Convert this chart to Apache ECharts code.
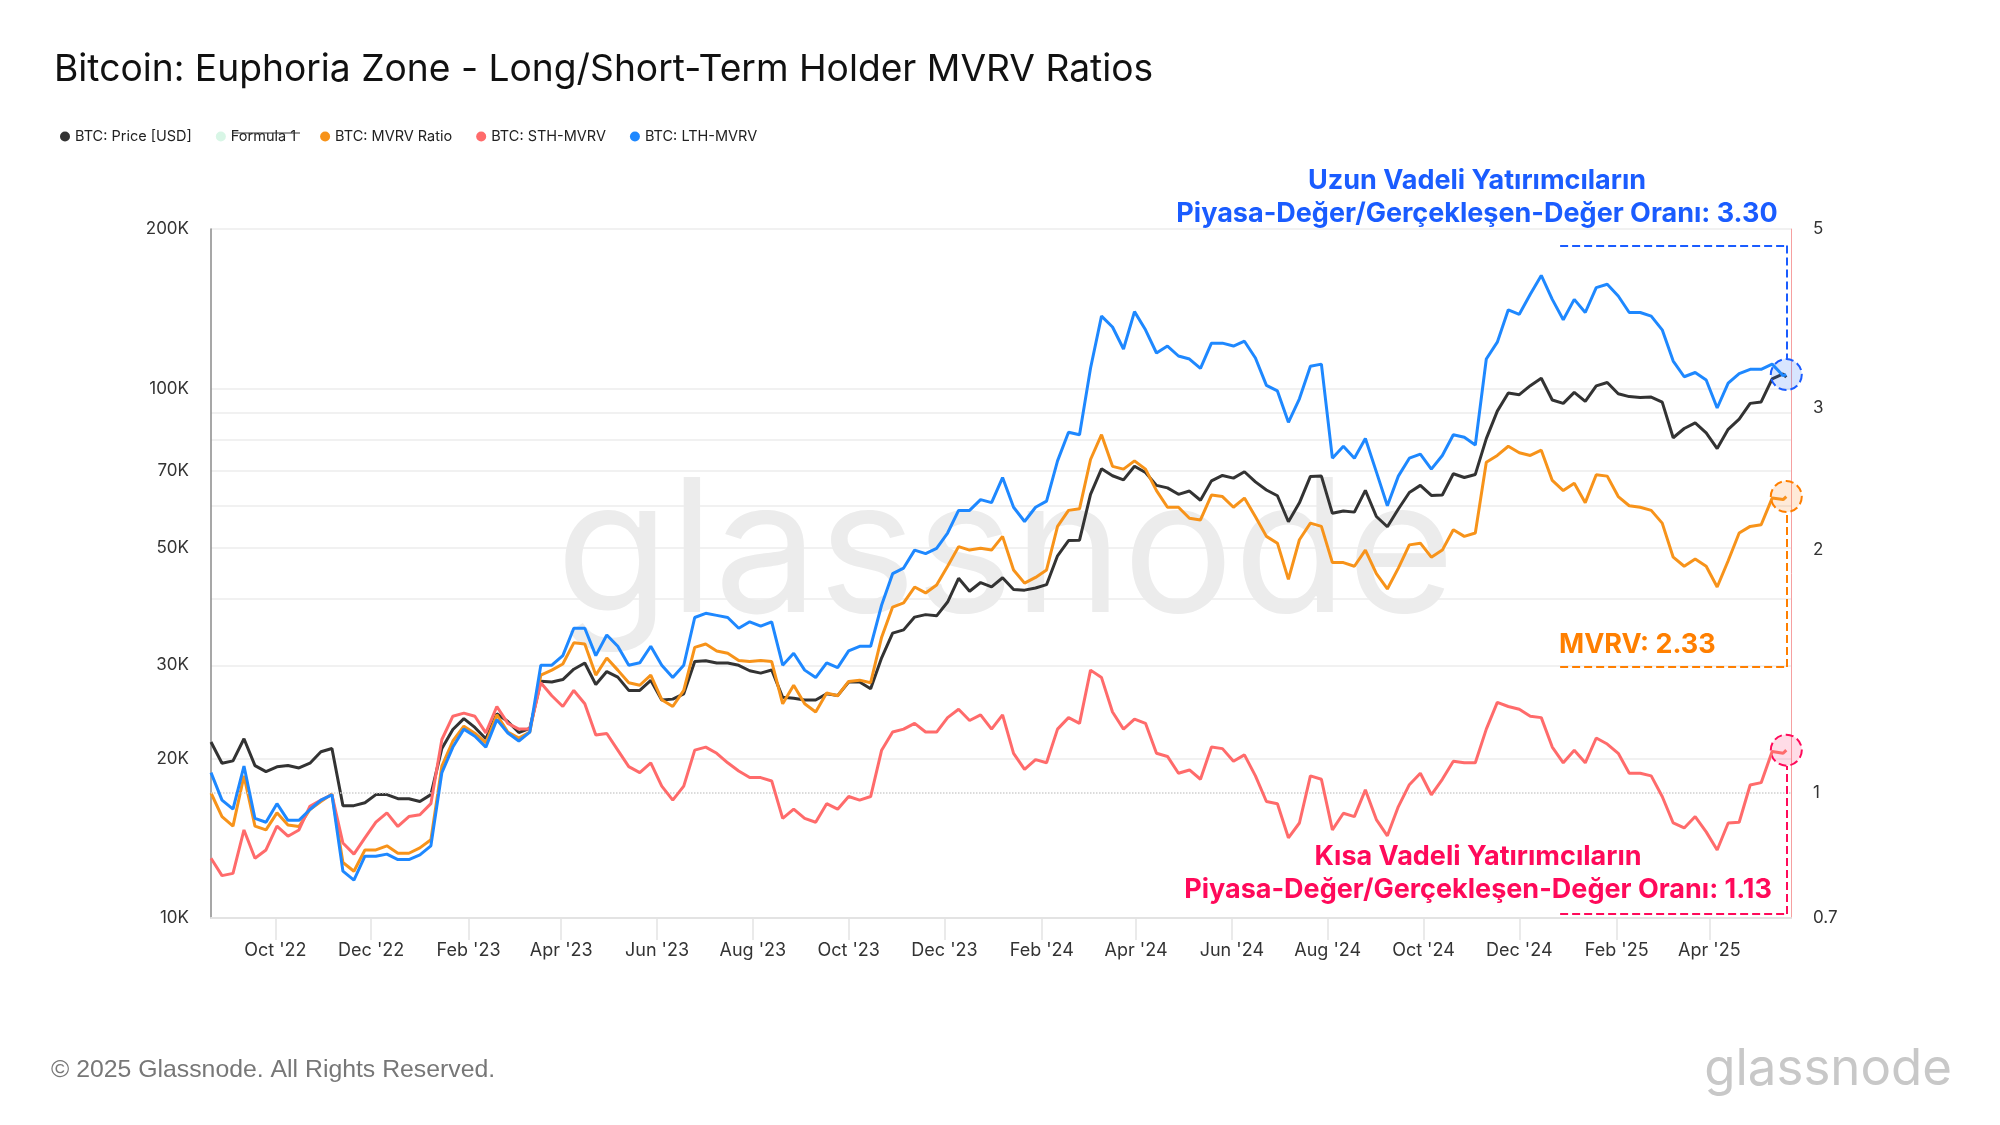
<!DOCTYPE html>
<html>
<head>
<meta charset="utf-8">
<title>Bitcoin: Euphoria Zone</title>
<script src="https://cdn.jsdelivr.net/npm/echarts@6/dist/echarts.min.js"></script>
<style>
  html, body { margin: 0; padding: 0; background: #fff; }
  #chart { width: 2000px; height: 1125px; }
</style>
</head>
<body>
<div id="chart"></div>
<script>
// weekly samples from 2022-08-21, plus the last day shown
const firstWeek = [2022, 7, 21];
const lastDay = [2025, 4, 20];

// BTC: Price [USD]
const priceUsd = [
    21500, 19600, 19800, 21800, 19400, 18900, 19300, 19400, 19200, 19600, 20600, 20900,
    16300, 16300, 16500, 17100, 17100, 16800, 16800, 16600, 17100, 20900, 22700, 23800,
    22900, 21800, 24300, 23500, 22400, 22800, 28000, 27900, 28200, 29500, 30300, 27600,
    29200, 28500, 26900, 26900, 28100, 25800, 25900, 26500, 30500, 30600, 30300, 30300,
    30000, 29300, 29000, 29400, 26100, 26000, 25800, 25800, 26500, 26300, 27900, 27900,
    27100, 31000, 34500, 35000, 37000, 37400, 37200, 39500, 43800, 41400, 43000, 42200,
    43900, 41700, 41600, 42000, 42600, 48300, 51600, 51700, 63100, 70500, 68400, 67200,
    71300, 69400, 65600, 64900, 63100, 64000, 61500, 66900, 68500, 67700, 69600, 66600,
    64300, 62700, 56000, 60800, 68200, 68300, 58100, 58700, 58400, 64200, 57300, 54800,
    59200, 63600, 65600, 62800, 62900, 69000, 67900, 68800, 80400, 90600, 98000, 97300,
    101200, 104500, 95100, 93700, 98300, 94500, 101100, 102600, 97700, 96500, 96100, 96300,
    94200, 80700, 84000, 86100, 82400, 77000, 83700, 87500, 93700, 94300, 104200, 106500,
    105000
];

// BTC: MVRV Ratio
const mvrv = [
    1.00, 0.935, 0.91, 1.05, 0.91, 0.90, 0.945, 0.913, 0.909, 0.954, 0.976, 0.997,
    0.82, 0.80, 0.85, 0.85, 0.86, 0.842, 0.842, 0.855, 0.875, 1.08, 1.16, 1.21,
    1.186, 1.154, 1.25, 1.19, 1.17, 1.19, 1.40, 1.42, 1.445, 1.535, 1.53, 1.40,
    1.47, 1.42, 1.37, 1.36, 1.40, 1.305, 1.28, 1.34, 1.515, 1.53, 1.50, 1.49,
    1.46, 1.455, 1.46, 1.455, 1.29, 1.36, 1.29, 1.26, 1.33, 1.32, 1.375, 1.38,
    1.37, 1.56, 1.70, 1.72, 1.80, 1.77, 1.81, 1.91, 2.02, 2.00, 2.01, 2.00,
    2.08, 1.89, 1.82, 1.85, 1.89, 2.14, 2.24, 2.25, 2.59, 2.78, 2.54, 2.52,
    2.58, 2.52, 2.37, 2.26, 2.26, 2.19, 2.18, 2.34, 2.33, 2.26, 2.32, 2.20,
    2.08, 2.04, 1.84, 2.06, 2.16, 2.14, 1.93, 1.93, 1.91, 2.00, 1.87, 1.79,
    1.90, 2.03, 2.04, 1.96, 2.00, 2.12, 2.08, 2.10, 2.57, 2.62, 2.69, 2.64,
    2.62, 2.66, 2.44, 2.37, 2.42, 2.29, 2.48, 2.47, 2.33, 2.27, 2.26, 2.24,
    2.16, 1.96, 1.91, 1.95, 1.91, 1.80, 1.94, 2.10, 2.14, 2.15, 2.32, 2.31,
    2.33
];

// BTC: STH-MVRV
const sthMvrv = [
    0.83, 0.79, 0.795, 0.90, 0.83, 0.85, 0.91, 0.884, 0.90, 0.963, 0.98, 0.995,
    0.867, 0.84, 0.88, 0.92, 0.945, 0.909, 0.935, 0.94, 0.97, 1.165, 1.245, 1.256,
    1.245, 1.187, 1.28, 1.22, 1.20, 1.20, 1.37, 1.32, 1.28, 1.34, 1.29, 1.18,
    1.185, 1.13, 1.078, 1.06, 1.09, 1.02, 0.98, 1.02, 1.13, 1.14, 1.12, 1.09,
    1.065, 1.045, 1.045, 1.035, 0.93, 0.955, 0.93, 0.92, 0.97, 0.955, 0.99, 0.98,
    0.99, 1.13, 1.19, 1.20, 1.22, 1.19, 1.19, 1.24, 1.27, 1.23, 1.25, 1.20,
    1.25, 1.12, 1.07, 1.10, 1.09, 1.20, 1.24, 1.22, 1.42, 1.39, 1.26, 1.20,
    1.235, 1.22, 1.12, 1.11, 1.058, 1.068, 1.04, 1.14, 1.135, 1.095, 1.115, 1.05,
    0.976, 0.97, 0.88, 0.918, 1.05, 1.04, 0.90, 0.944, 0.935, 1.009, 0.927, 0.885,
    0.962, 1.024, 1.058, 0.995, 1.04, 1.095, 1.09, 1.09, 1.20, 1.295, 1.28, 1.27,
    1.245, 1.24, 1.14, 1.09, 1.13, 1.09, 1.17, 1.15, 1.12, 1.058, 1.058, 1.05,
    0.99, 0.918, 0.905, 0.935, 0.895, 0.85, 0.918, 0.92, 1.023, 1.03, 1.126, 1.12,
    1.13
];

// BTC: LTH-MVRV
const lthMvrv = [
    1.06, 0.98, 0.955, 1.08, 0.93, 0.92, 0.97, 0.925, 0.925, 0.954, 0.98, 0.995,
    0.80, 0.78, 0.835, 0.835, 0.84, 0.827, 0.827, 0.838, 0.86, 1.06, 1.14, 1.20,
    1.176, 1.14, 1.233, 1.187, 1.16, 1.19, 1.44, 1.44, 1.48, 1.60, 1.60, 1.48,
    1.57, 1.52, 1.44, 1.45, 1.52, 1.44, 1.39, 1.44, 1.65, 1.67, 1.66, 1.65,
    1.60, 1.63, 1.61, 1.63, 1.44, 1.49, 1.42, 1.39, 1.45, 1.43, 1.50, 1.52,
    1.52, 1.71, 1.87, 1.90, 2.00, 1.98, 2.01, 2.10, 2.24, 2.24, 2.31, 2.29,
    2.46, 2.26, 2.17, 2.26, 2.30, 2.58, 2.80, 2.78, 3.36, 3.90, 3.78, 3.55,
    3.95, 3.75, 3.51, 3.58, 3.48, 3.45, 3.36, 3.61, 3.61, 3.58, 3.63, 3.46,
    3.20, 3.15, 2.88, 3.08, 3.38, 3.40, 2.60, 2.69, 2.60, 2.75, 2.50, 2.27,
    2.47, 2.60, 2.63, 2.52, 2.62, 2.78, 2.76, 2.70, 3.45, 3.62, 3.97, 3.92,
    4.15, 4.38, 4.09, 3.86, 4.09, 3.94, 4.23, 4.27, 4.13, 3.94, 3.94, 3.90,
    3.75, 3.43, 3.28, 3.32, 3.25, 3.00, 3.22, 3.31, 3.35, 3.35, 3.40, 3.29,
    3.30
];

// axis ticks
const monthTicks = ['2022-10-01', '2022-12-01', '2023-02-01', '2023-04-01', '2023-06-01', '2023-08-01',
    '2023-10-01', '2023-12-01', '2024-02-01', '2024-04-01', '2024-06-01', '2024-08-01',
    '2024-10-01', '2024-12-01', '2025-02-01', '2025-04-01'];
const priceLabels = [10000, 20000, 30000, 50000, 70000, 100000, 200000];
const priceGridLines = [10000, 20000, 30000, 40000, 50000, 60000, 70000, 80000, 90000, 100000, 200000];
const ratioLabels = [0.7, 1, 2, 3, 5];

const monthNames = ['Jan', 'Feb', 'Mar', 'Apr', 'May', 'Jun', 'Jul', 'Aug', 'Sep', 'Oct', 'Nov', 'Dec'];

function dayTime(s) {
    const p = s.split('-');
    return new Date(+p[0], +p[1] - 1, +p[2]).getTime();
}

// x values (timestamps on a linear axis)
const dates = [];
for (let i = 0; i < priceUsd.length - 1; i++) {
    dates.push(new Date(firstWeek[0], firstWeek[1], firstWeek[2] + 7 * i).getTime());
}
const endTime = new Date(lastDay[0], lastDay[1], lastDay[2]).getTime();
dates.push(endTime);

function pairs(values) {
    return values.map(function (v, i) { return [dates[i], v]; });
}

const BLUE = '#1a5cff';
const ORANGE = '#ff7f00';
const PINK = '#ff0a5a';
const FONT = 'Inter, "Noto Sans", sans-serif';
const annStart = dayTime('2024-12-27');

document.addEventListener('DOMContentLoaded', function () {
    const chart = echarts.init(document.getElementById('chart'));
    chart.setOption({
        animation: false,
        backgroundColor: '#ffffff',
        textStyle: { fontFamily: FONT },
        title: {
            text: 'Bitcoin: Euphoria Zone - Long/Short-Term Holder MVRV Ratios',
            left: 49,
            top: 46,
            textStyle: { fontSize: 37.2, fontWeight: 'normal', color: '#111111', fontFamily: FONT }
        },
        legend: {
            left: 55,
            top: 124,
            icon: 'circle',
            itemWidth: 10,
            itemHeight: 10,
            itemGap: 24,
            textStyle: { fontSize: 14.5, color: '#222222', fontFamily: FONT },
            data: ['BTC: Price [USD]', 'Formula 1', 'BTC: MVRV Ratio', 'BTC: STH-MVRV', 'BTC: LTH-MVRV']
        },
        grid: { left: 211, right: 209, top: 229, bottom: 207 },
        xAxis: {
            type: 'value',
            min: dayTime('2022-08-21'),
            max: dayTime('2025-05-23'),
            axisLine: { lineStyle: { color: '#e3e3e3', width: 2 } },
            axisTick: {
                show: true,
                customValues: monthTicks.map(dayTime),
                length: 22,
                lineStyle: { color: '#e3e3e3', width: 1.5 }
            },
            axisLabel: {
                customValues: monthTicks.map(dayTime),
                margin: 24,
                fontSize: 18,
                color: '#333333',
                formatter: function (v) {
                    const d = new Date(v);
                    return monthNames[d.getMonth()] + " '" + String(d.getFullYear()).slice(2);
                }
            },
            splitLine: { show: false }
        },
        yAxis: [
            {
                type: 'log',
                logBase: 10,
                min: 10000,
                max: 200000,
                position: 'left',
                axisLine: { show: true, lineStyle: { color: '#8a8a8a', width: 1.5 } },
                axisTick: { show: false, customValues: priceGridLines },
                axisLabel: {
                    customValues: priceLabels,
                    margin: 22,
                    fontSize: 17,
                    color: '#333333',
                    formatter: function (v) { return Math.round(v / 1000) + 'K'; }
                },
                splitLine: { show: true, lineStyle: { color: '#ececec', width: 1.5 } }
            },
            {
                type: 'log',
                logBase: 10,
                min: 0.7,
                max: 5,
                position: 'right',
                axisLine: { show: true, lineStyle: { color: '#f6a0a0', width: 1 } },
                axisTick: { show: false },
                axisLabel: {
                    customValues: ratioLabels,
                    margin: 22,
                    fontSize: 17,
                    color: '#333333',
                    formatter: function (v) { return String(Math.round(v * 10) / 10); }
                },
                splitLine: { show: false }
            }
        ],
        graphic: [
            {
                type: 'text', z: 0, silent: true,
                style: { x: 556, y: 556, text: 'glassnode', font: '185px ' + FONT, fill: '#ececec', verticalAlign: 'middle' }
            },
            {
                type: 'line', z: 10, silent: true,
                shape: { x1: 232, y1: 133, x2: 300, y2: 133 },
                style: { stroke: '#333333', lineWidth: 1.2 }
            },
            {
                type: 'text', z: 20, silent: true,
                style: {
                    x: 1477, y: 197, text: 'Uzun Vadeli Yatırımcıların\nPiyasa-Değer/Gerçekleşen-Değer Oranı: 3.30',
                    font: 'bold 27px ' + FONT, lineHeight: 33, fill: BLUE, align: 'center', verticalAlign: 'middle'
                }
            },
            {
                type: 'text', z: 20, silent: true,
                style: { x: 1559, y: 645, text: 'MVRV: 2.33', font: 'bold 27px ' + FONT, fill: ORANGE, verticalAlign: 'middle' }
            },
            {
                type: 'text', z: 20, silent: true,
                style: {
                    x: 1478, y: 873, text: 'Kısa Vadeli Yatırımcıların\nPiyasa-Değer/Gerçekleşen-Değer Oranı: 1.13',
                    font: 'bold 27px ' + FONT, lineHeight: 33, fill: PINK, align: 'center', verticalAlign: 'middle'
                }
            },
            {
                type: 'text', z: 20, silent: true,
                style: { x: 51, y: 1070, text: '© 2025 Glassnode. All Rights Reserved.', font: '24.8px "Liberation Sans", Arial, sans-serif', fill: '#777777', verticalAlign: 'middle' }
            },
            {
                type: 'text', z: 20, silent: true,
                style: { x: 1952, y: 1070, text: 'glassnode', font: '51px ' + FONT, fill: '#c8c8c8', align: 'right', verticalAlign: 'middle' }
            }
        ],
        series: [
            {
                name: 'BTC: Price [USD]',
                type: 'line',
                yAxisIndex: 0,
                showSymbol: false,
                data: pairs(priceUsd),
                itemStyle: { color: '#333333' },
                lineStyle: { color: '#333333', width: 3 },
                z: 3
            },
            {
                name: 'Formula 1',
                type: 'line',
                yAxisIndex: 1,
                showSymbol: false,
                data: [],
                itemStyle: { color: '#d8f6e6' }
            },
            {
                name: 'BTC: MVRV Ratio',
                type: 'line',
                yAxisIndex: 1,
                showSymbol: false,
                data: pairs(mvrv),
                itemStyle: { color: '#f7931a' },
                lineStyle: { color: '#f7931a', width: 3 },
                z: 4,
                markLine: {
                    silent: true, symbol: 'none', label: { show: false },
                    lineStyle: { type: 'dashed', color: ORANGE, width: 2 },
                    data: [
                        [{ coord: [annStart, 1.433] }, { coord: [endTime, 1.433] }],
                        [{ coord: [endTime, 1.433] }, { coord: [endTime, 2.22] }]
                    ]
                },
                markPoint: {
                    silent: true, symbol: 'circle', symbolSize: 31, label: { show: false },
                    itemStyle: { color: 'rgba(255,140,40,0.18)', borderColor: ORANGE, borderWidth: 2, borderType: 'dashed' },
                    data: [{ coord: [endTime, mvrv[mvrv.length - 1]] }]
                }
            },
            {
                name: 'BTC: STH-MVRV',
                type: 'line',
                yAxisIndex: 1,
                showSymbol: false,
                data: pairs(sthMvrv),
                itemStyle: { color: '#ff6b6b' },
                lineStyle: { color: '#ff6b6b', width: 3 },
                z: 5,
                markLine: {
                    silent: true, symbol: 'none', label: { show: false },
                    lineStyle: { type: 'dashed', color: PINK, width: 2 },
                    data: [
                        { yAxis: 1, lineStyle: { type: 'dotted', color: '#d0d0d0', width: 1.5 } },
                        [{ coord: [annStart, 0.708] }, { coord: [endTime, 0.708] }],
                        [{ coord: [endTime, 0.708] }, { coord: [endTime, 1.08] }]
                    ]
                },
                markPoint: {
                    silent: true, symbol: 'circle', symbolSize: 31, label: { show: false },
                    itemStyle: { color: 'rgba(255,60,120,0.18)', borderColor: PINK, borderWidth: 2, borderType: 'dashed' },
                    data: [{ coord: [endTime, sthMvrv[sthMvrv.length - 1]] }]
                }
            },
            {
                name: 'BTC: LTH-MVRV',
                type: 'line',
                yAxisIndex: 1,
                showSymbol: false,
                data: pairs(lthMvrv),
                itemStyle: { color: '#1e88ff' },
                lineStyle: { color: '#1e88ff', width: 3 },
                z: 6,
                markLine: {
                    silent: true, symbol: 'none', label: { show: false },
                    lineStyle: { type: 'dashed', color: BLUE, width: 2 },
                    data: [
                        [{ coord: [annStart, 4.77] }, { coord: [endTime, 4.77] }],
                        [{ coord: [endTime, 4.77] }, { coord: [endTime, 3.45] }]
                    ]
                },
                markPoint: {
                    silent: true, symbol: 'circle', symbolSize: 31, label: { show: false },
                    itemStyle: { color: 'rgba(40,110,255,0.18)', borderColor: BLUE, borderWidth: 2, borderType: 'dashed' },
                    data: [{ coord: [endTime, lthMvrv[lthMvrv.length - 1]] }]
                }
            }
        ]
    });

    window.addEventListener('resize', function () {
        chart.resize();
    });
});
</script>
</body>
</html>
